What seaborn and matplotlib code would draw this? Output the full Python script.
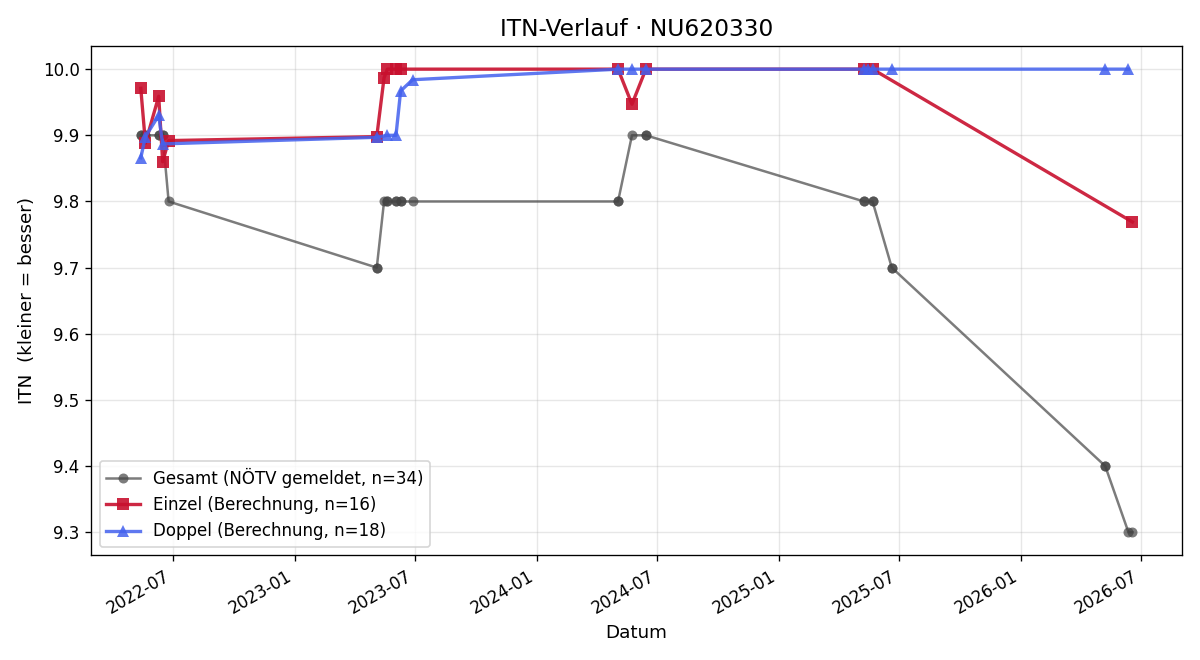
import pandas as pd
import matplotlib
matplotlib.use("Agg")
import matplotlib.pyplot as plt
import matplotlib.dates as mdates
import seaborn as sns

# Gesamt (NÖTV gemeldet) - several matches share a date
gesamt_dates = ["2022-05-14", "2022-05-14", "2022-05-21", "2022-05-21", "2022-06-10", "2022-06-10",
                "2022-06-16", "2022-06-16", "2022-06-25", "2023-05-05", "2023-05-05", "2023-05-16",
                "2023-05-21", "2023-05-21", "2023-06-03", "2023-06-03", "2023-06-10", "2023-06-10",
                "2023-06-28", "2024-05-03", "2024-05-03", "2024-05-24", "2024-06-14", "2024-06-14",
                "2025-05-09", "2025-05-09", "2025-05-22", "2025-05-22", "2025-06-20", "2025-06-20",
                "2026-05-08", "2026-05-08", "2026-06-12", "2026-06-18"]
gesamt_itn = [9.9, 9.9, 9.9, 9.9, 9.9, 9.9,
              9.9, 9.9, 9.8, 9.7, 9.7, 9.8,
              9.8, 9.8, 9.8, 9.8, 9.8, 9.8,
              9.8, 9.8, 9.8, 9.9, 9.9, 9.9,
              9.8, 9.8, 9.8, 9.8, 9.7, 9.7,
              9.4, 9.4, 9.3, 9.3]

einzel_dates = ["2022-05-14", "2022-05-21", "2022-06-10", "2022-06-16", "2022-06-25", "2023-05-05",
                "2023-05-16", "2023-05-21", "2023-06-03", "2023-06-10", "2024-05-03", "2024-05-24",
                "2024-06-14", "2025-05-09", "2025-05-22", "2026-06-18"]
einzel_itn = [9.971, 9.888, 9.959, 9.860, 9.892, 9.898,
              9.987, 10.0, 10.0, 10.0, 10.0, 9.947,
              10.0, 10.0, 10.0, 9.769]

doppel_dates = ["2022-05-14", "2022-05-21", "2022-06-10", "2022-06-16", "2023-05-05", "2023-05-21",
                "2023-06-03", "2023-06-10", "2023-06-28", "2024-05-03", "2024-05-24", "2024-06-14",
                "2025-05-09", "2025-05-15", "2025-05-22", "2025-06-20", "2026-05-08", "2026-06-12"]
doppel_itn = [9.866, 9.898, 9.930, 9.887, 9.897, 9.900,
              9.900, 9.967, 9.984, 10.0, 10.0, 10.0,
              10.0, 10.0, 10.0, 10.0, 10.0, 10.0]

gesamt = pd.DataFrame({"datum": pd.to_datetime(gesamt_dates), "itn": gesamt_itn})
einzel = pd.DataFrame({"datum": pd.to_datetime(einzel_dates), "itn": einzel_itn})
doppel = pd.DataFrame({"datum": pd.to_datetime(doppel_dates), "itn": doppel_itn})

fig, ax = plt.subplots(figsize=(10, 5.5), dpi=120)

sns.lineplot(data=gesamt, x="datum", y="itn", ax=ax, estimator=None, sort=False,
             color="#444444", alpha=0.7, linewidth=1.5, marker="o", markersize=6,
             markeredgewidth=0, label=f"Gesamt (NÖTV gemeldet, n={len(gesamt)})")
sns.lineplot(data=einzel, x="datum", y="itn", ax=ax, estimator=None, sort=False,
             color="#c8102e", alpha=0.9, linewidth=2, marker="s", markersize=7,
             markeredgewidth=0, label=f"Einzel (Berechnung, n={len(einzel)})")
sns.lineplot(data=doppel, x="datum", y="itn", ax=ax, estimator=None, sort=False,
             color="#4361ee", alpha=0.85, linewidth=2, marker="^", markersize=7,
             markeredgewidth=0, label=f"Doppel (Berechnung, n={len(doppel)})")

ax.set_title("ITN-Verlauf · NU620330", fontsize=14)
ax.set_xlabel("Datum", fontsize=11)
ax.set_ylabel("ITN  (kleiner = besser)", fontsize=11)
ax.grid(True, alpha=0.3)
ax.xaxis.set_major_locator(mdates.MonthLocator(bymonth=[1, 7]))
ax.xaxis.set_major_formatter(mdates.DateFormatter("%Y-%m"))
ax.legend(loc="lower left", fontsize=10)
fig.autofmt_xdate()
fig.tight_layout()
fig.savefig("out.png")
